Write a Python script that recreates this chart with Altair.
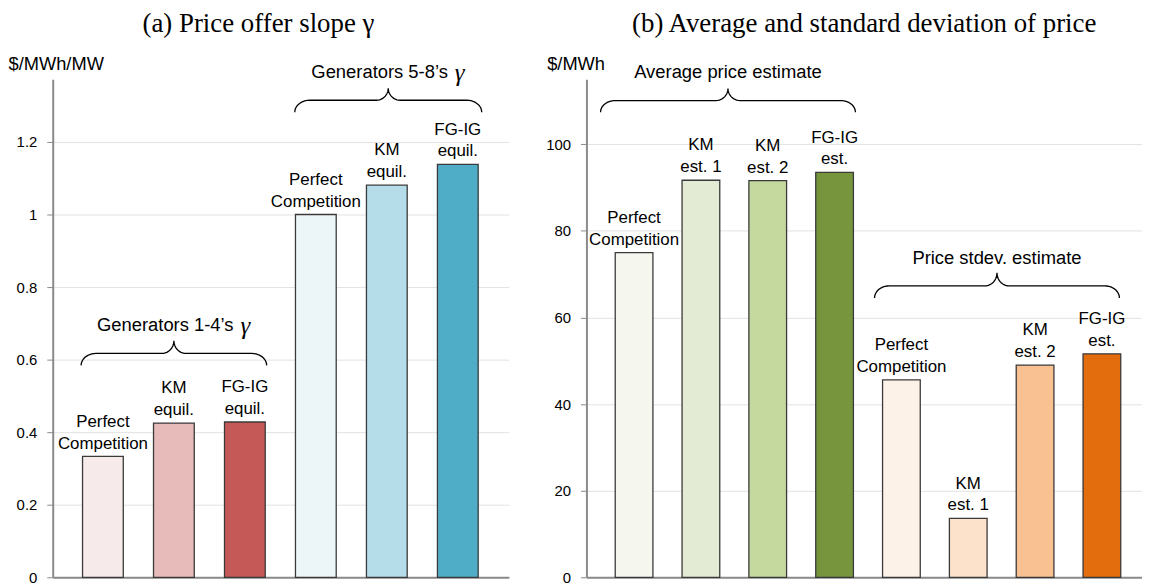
import altair as alt
import numpy as np
import pandas as pd

SANS = "Liberation Sans"
SERIF = "Liberation Serif"

# ---------------- data ----------------
a_labels = ["Perfect\nCompetition", "KM\nequil.", "FG-IG\nequil.",
            "Perfect\nCompetition", "KM\nequil.", "FG-IG\nequil."]
a_values = [0.333, 0.425, 0.428, 1.0, 1.081, 1.138]
a_colors = ["#f7eaea", "#e8bbbb", "#c45957", "#ecf5f8", "#b5dde9", "#50adc8"]
a_groups = [("Generators 1-4\u2019s", 0, 2), ("Generators 5-8\u2019s", 3, 5)]

b_labels = ["Perfect\nCompetition", "KM\nest. 1", "KM\nest. 2", "FG-IG\nest.",
            "Perfect\nCompetition", "KM\nest. 1", "KM\nest. 2", "FG-IG\nest."]
b_values = [75.0, 91.7, 91.6, 93.5, 45.6, 13.6, 49.0, 51.6]
b_colors = ["#f5f7ee", "#e3ebd4", "#c5d89e", "#77953c",
            "#fdf2e7", "#fce2ca", "#f9c091", "#e36c0c"]
b_groups = [("Average price estimate", 0, 3), ("Price stdev. estimate", 4, 7)]

# annotation levels (data units): brace end, brace bar, brace tip, label
a_brace_levels = [(0.584, 0.617, 0.652, 0.696), (1.282, 1.315, 1.348, 1.392)]
a_brace_ext = [(0.02, 0.02), (0.01, 0.05)]
b_brace_levels = [(107.4, 110.1, 112.9, 116.6), (64.5, 67.3, 70.3, 73.8)]
b_brace_ext = [(0.22, 0.03), (0.12, -0.02)]

a_ticks = [0, 0.2, 0.4, 0.6, 0.8, 1.0, 1.2]
b_ticks = [0, 20, 40, 60, 80, 100]


def brace_points(x0, x1, y_end, y_h, y_tip, r_end, r_mid, n=12):
    xm = (x0 + x1) / 2
    s = np.linspace(0, np.pi / 2, n)
    pts = []
    for t in s:
        pts.append((x0 + r_end * (1 - np.cos(t)), y_end + (y_h - y_end) * np.sin(t)))
    for t in s:
        pts.append((xm - r_mid + r_mid * np.sin(t), y_h + (y_tip - y_h) * (1 - np.cos(t))))
    for t in s[::-1]:
        pts.append((xm + r_mid - r_mid * np.sin(t), y_h + (y_tip - y_h) * (1 - np.cos(t))))
    for t in s[::-1]:
        pts.append((x1 - r_end * (1 - np.cos(t)), y_end + (y_h - y_end) * np.sin(t)))
    return pts


def panel(labels, values, colors, groups, levels, exts, ticks, fmt, ydom, xdom,
          half, r_end, r_mid, ytitle, title_x, title_text, frame, width, gamma):
    n = len(values)
    bars = pd.DataFrame({
        "pos": list(range(n)),
        "lo": [i - half for i in range(n)],
        "hi": [i + half for i in range(n)],
        "v": values,
        "zero": [0] * n,
        "label": labels,
        "color": colors,
    })
    brace_rows, text_rows = [], []
    for gi, ((name, s, e), (y_end, y_h, y_tip, y_txt), (el, er)) in enumerate(zip(groups, levels, exts)):
        x0 = s - half - el
        x1 = e + half + er
        for k, (px, py) in enumerate(brace_points(x0, x1, y_end, y_h, y_tip, r_end, r_mid)):
            brace_rows.append({"g": gi, "k": k, "bx": px, "by": py})
        text_rows.append({"name": name, "tx": (x0 + x1) / 2, "ty": y_txt})
    braces = pd.DataFrame(brace_rows)
    texts = pd.DataFrame(text_rows)

    xsc = alt.Scale(domain=xdom, nice=False, zero=False)
    ysc = alt.Scale(domain=ydom, nice=False)
    xax = alt.Axis(labels=False, ticks=False, grid=False, title=None,
                   domainColor="#8a8a8a", domainWidth=2)
    yax = alt.Axis(values=ticks, format=fmt, title=ytitle, titleAngle=0,
                   titleAlign="left", titleBaseline="middle", titleX=title_x, titleY=-16,
                   titleFontSize=18.4, titleFontWeight="normal", titleColor="black",
                   titleFont=SANS, labelFont=SANS, labelFontSize=15, labelColor="black",
                   labelPadding=10, tickSize=6, tickColor="#8a8a8a", tickWidth=1,
                   domainColor="#8a8a8a", domainWidth=2, grid=True,
                   gridColor="#e2e2e2", gridWidth=1)

    base_bar = alt.Chart(bars)
    bar_layer = base_bar.mark_bar(stroke="#3a3a3a", strokeWidth=1.3).encode(
        x=alt.X("lo:Q", scale=xsc, axis=xax),
        x2="hi:Q",
        y=alt.Y("v:Q", scale=ysc, axis=yax),
        y2="zero:Q",
        color=alt.Color("color:N", scale=None),
    )
    lab_layer = base_bar.mark_text(font=SANS, fontSize=17, baseline="bottom", dy=-26,
                                   lineBreak="\n", lineHeight=22, color="black").encode(
        x=alt.X("pos:Q", scale=xsc, axis=xax),
        y=alt.Y("v:Q", scale=ysc, axis=yax),
        text="label:N",
    )
    brace_layer = alt.Chart(braces).mark_line(color="black", strokeWidth=1.3).encode(
        x=alt.X("bx:Q", scale=xsc, axis=xax),
        y=alt.Y("by:Q", scale=ysc, axis=yax),
        detail="g:N",
        order="k:Q",
    )
    layers = [bar_layer, lab_layer, brace_layer]
    if gamma:
        txt_layer = alt.Chart(texts).mark_text(font=SANS, fontSize=18.5, align="right",
                                                baseline="middle", dx=60, color="black").encode(
            x=alt.X("tx:Q", scale=xsc, axis=xax),
            y=alt.Y("ty:Q", scale=ysc, axis=yax),
            text="name:N",
        )
        g_layer = alt.Chart(texts).mark_text(font=SERIF, fontStyle="italic", fontSize=25,
                                              align="left", baseline="middle", dx=67, dy=1,
                                              color="black", text="\u03b3").encode(
            x=alt.X("tx:Q", scale=xsc, axis=xax),
            y=alt.Y("ty:Q", scale=ysc, axis=yax),
        )
        layers += [txt_layer, g_layer]
    else:
        txt_layer = alt.Chart(texts).mark_text(font=SANS, fontSize=18.5, align="center",
                                                baseline="middle", color="black").encode(
            x=alt.X("tx:Q", scale=xsc, axis=xax),
            y=alt.Y("ty:Q", scale=ysc, axis=yax),
            text="name:N",
        )
        layers += [txt_layer]
    return alt.layer(*layers).properties(
        width=width, height=501,
        title=alt.TitleParams(title_text, frame=frame, anchor="middle"),
    )


left = panel(a_labels, a_values, a_colors, a_groups, a_brace_levels, a_brace_ext, a_ticks, "~g",
             [0, 1.3726], [-0.707, 5.72], 0.287, 0.21, 0.17, "$/MWh/MW", -45,
             "(a) Price offer slope \u03b3", "bounds", 459, True)
right = panel(b_labels, b_values, b_colors, b_groups, b_brace_levels, b_brace_ext, b_ticks, "d",
              [0, 115], [-0.713, 7.60], 0.282, 0.22, 0.18, "$/MWh", -40,
              "(b) Average and standard deviation of price", "group", 559, False)

chart = alt.hconcat(left, right, spacing=36).properties(padding=0).configure_view(
    stroke=None
).configure_title(
    font=SERIF, fontSize=27, fontWeight="normal", color="black", offset=17
)

chart.save("out.html", embed_options={"renderer": "svg", "actions": False})
